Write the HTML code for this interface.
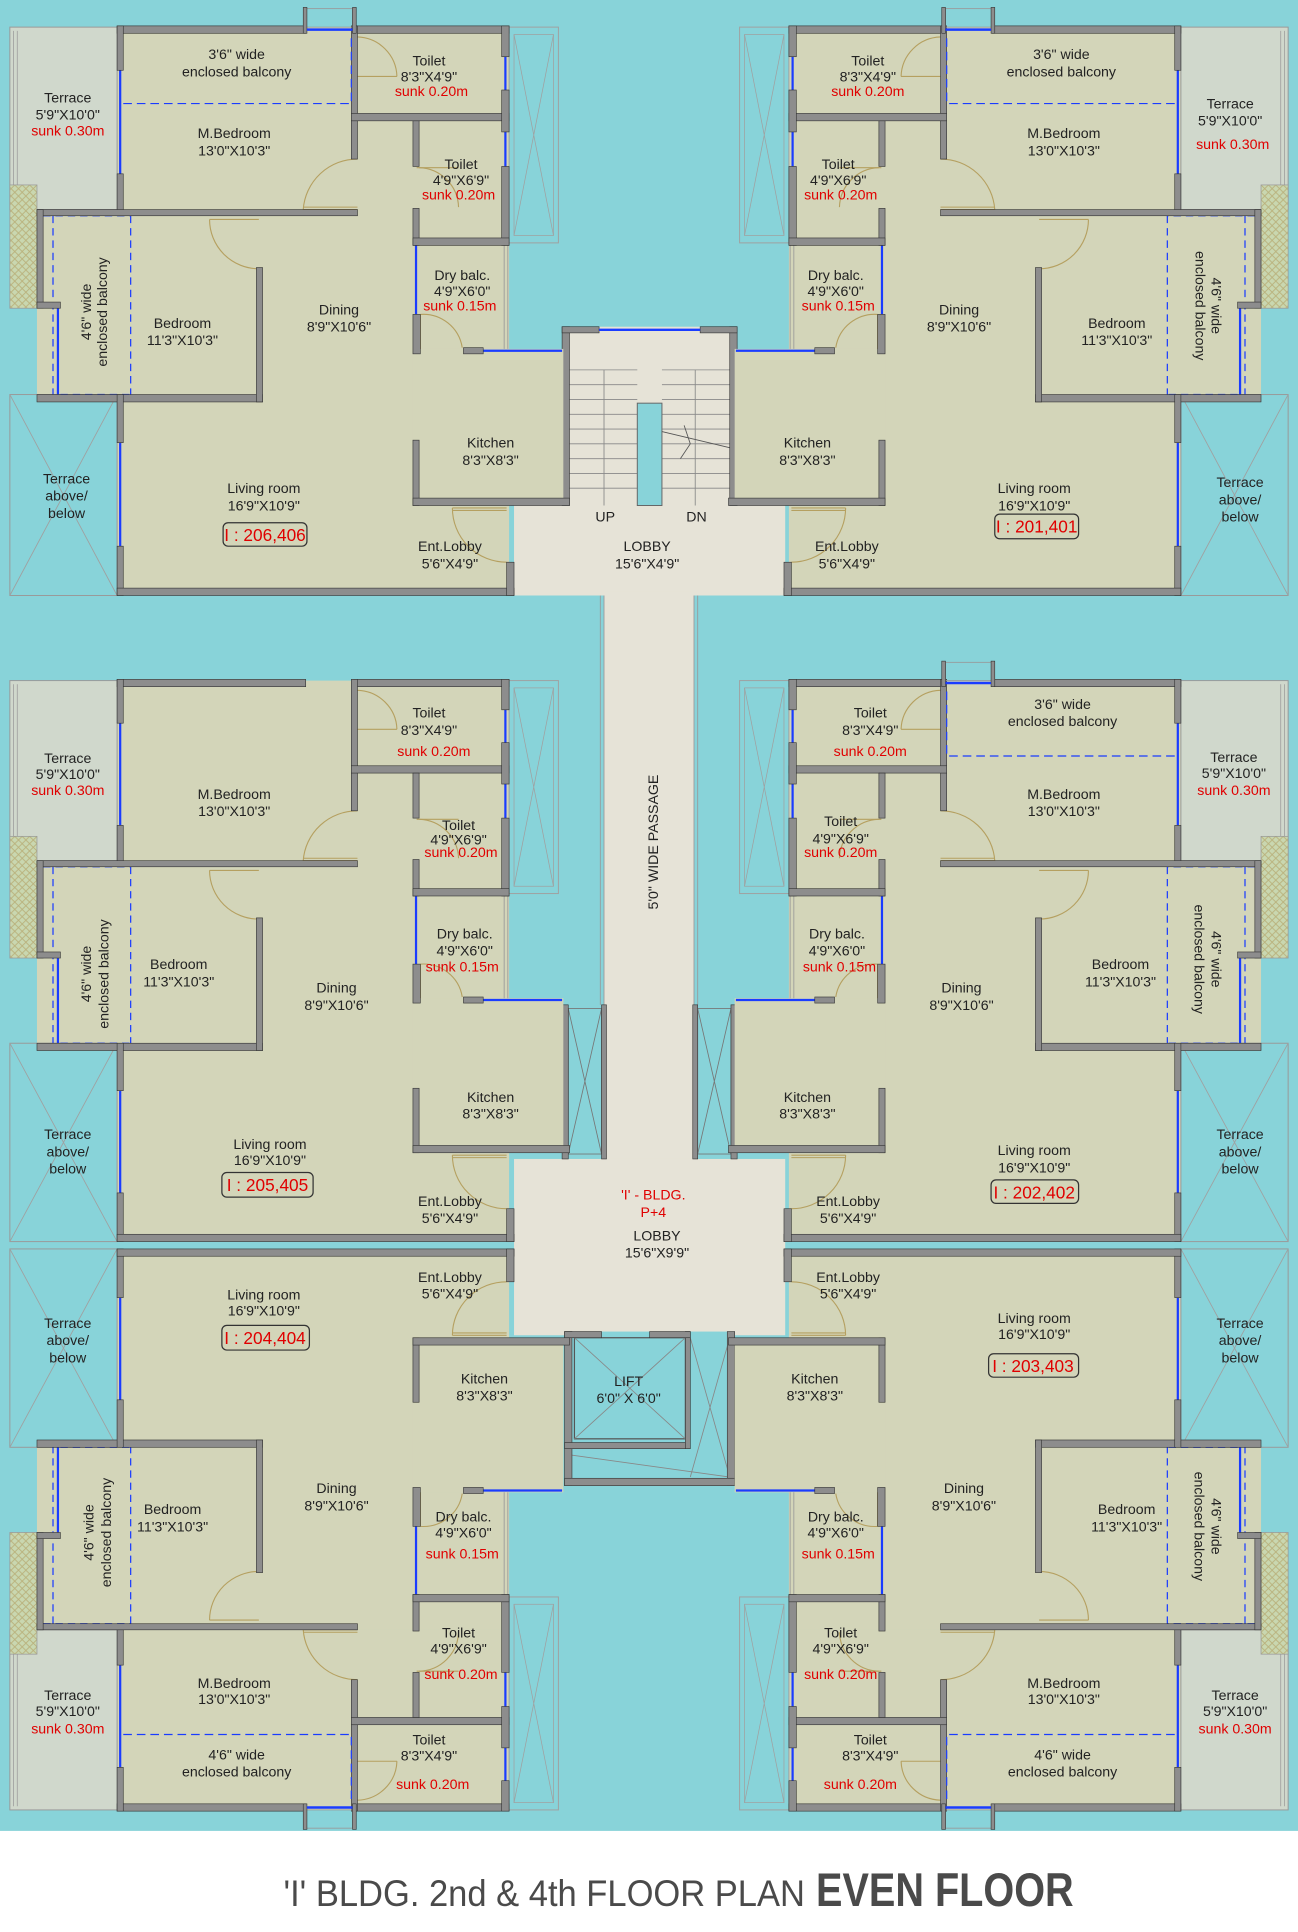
<!DOCTYPE html>
<html><head><meta charset="utf-8"><style>
html,body{margin:0;padding:0;background:#fff}
svg{display:block}
text{font-family:"Liberation Sans",sans-serif;font-size:11.5px;fill:#222;text-anchor:middle}
.r{fill:#e00000}
</style></head><body>
<svg width="1298" height="1932" viewBox="0 0 1053 1567" preserveAspectRatio="none" xmlns="http://www.w3.org/2000/svg">
<defs>
<pattern id="hx" width="6" height="6" patternUnits="userSpaceOnUse"><rect width="6" height="6" fill="#c9d7b0"/><path d="M0 0L6 6M6 0L0 6" stroke="#b9b07a" stroke-width="0.7"/></pattern>
<g id="ug">
 <!-- fills -->
 <rect x="95" y="22" width="318" height="150" fill="#d3d5b9"/>
 <rect x="30" y="170" width="183" height="156" fill="#d3d5b9"/>
 <rect x="95" y="170" width="318" height="313" fill="#d3d5b9"/>
 <rect x="335" y="283" width="122" height="127" fill="#d3d5b9"/>
 <rect x="8" y="22" width="87" height="148" fill="#d0d8cc" stroke="#999" stroke-width="0.8"/>
 <path d="M11 25V168M14 25V168" stroke="#999" stroke-width="0.6"/>
 <rect x="8" y="150" width="22" height="100" fill="url(#hx)" stroke="#999" stroke-width="0.6"/>
 <rect x="8" y="320" width="87" height="163" fill="none" stroke="#999" stroke-width="0.8"/>
 <path d="M8 320L95 483M95 320L8 483" stroke="#a0a0a0" stroke-width="0.7"/>
 <rect x="413" y="22" width="40" height="175" fill="none" stroke="#a0a0a0" stroke-width="0.8"/>
 <rect x="417" y="28" width="32" height="163" fill="none" stroke="#a0a0a0" stroke-width="0.6"/>
 <path d="M417 28L449 191M449 28L417 191" stroke="#a0a0a0" stroke-width="0.6"/>
 <path d="M409 199V283M412 199V283" stroke="#999" stroke-width="0.7"/>
 <!-- windows (blue) -->
 <path d="M97.5 57V141M47 250V320M97.5 359V443M410 46V73M410 107V135M337.5 199V255M392 284.5H456" stroke="#1a3cff" stroke-width="1.8"/>
 <!-- bedroom balcony dashes -->
 <path d="M43 175V320M106 175V320M35 175H106M49 320H106" stroke="#1a3cff" stroke-width="1" stroke-dasharray="6,4" fill="none"/>
 <!-- doors -->
 <g fill="none" stroke="#b5a060" stroke-width="0.9">
  <path d="M246 170A44 44 0 0 1 290 129"/><path d="M246 170H290M246 168H290"/>
  <path d="M170 178A40 40 0 0 0 210 218"/><path d="M170 178H210"/>
  <path d="M290 30A33 33 0 0 1 322 62"/><path d="M288 62H322"/>
  <path d="M340 136A33 33 0 0 1 372 168"/><path d="M338 136H372"/>
  <path d="M341 255A32 32 0 0 1 375 282"/><path d="M341 255V283"/>
  <path d="M367 412A44 44 0 0 0 411 456"/><path d="M367 412H411M367 414H411"/>
 </g>
 <!-- walls -->
 <g fill="#8d8d8d" stroke="#333" stroke-width="0.5">
  <rect x="95" y="21" width="153" height="6"/><rect x="287" y="21" width="126" height="6"/>
  <rect x="95" y="21" width="5" height="36"/><rect x="95" y="141" width="5" height="34"/>
  <rect x="30" y="170" width="260" height="5"/>
  <rect x="30" y="170" width="5" height="80"/><rect x="30" y="245" width="19" height="5"/>
  <rect x="30" y="320" width="183" height="6"/>
  <rect x="208" y="217" width="5" height="109"/>
  <rect x="95" y="320" width="5" height="39"/><rect x="95" y="443" width="5" height="40"/>
  <rect x="95" y="477" width="322" height="6"/>
  <rect x="411" y="456" width="6" height="27"/>
  <rect x="285" y="21" width="5" height="108"/>
  <rect x="285" y="92" width="128" height="6"/>
  <rect x="407" y="21" width="6" height="25"/><rect x="407" y="73" width="6" height="34"/><rect x="407" y="135" width="6" height="64"/>
  <rect x="335" y="98" width="5" height="37"/><rect x="335" y="169" width="5" height="30"/>
  <rect x="335" y="193" width="78" height="6"/>
  <rect x="335" y="255" width="6" height="32"/>
  <rect x="376" y="282" width="16" height="5"/>
  <rect x="335" y="357" width="5" height="53"/>
  <rect x="335" y="404" width="127" height="6"/>
 </g>
</g>
<g id="ub">
 <rect x="248" y="7" width="38" height="15" fill="none" stroke="#999" stroke-width="0.7"/>
 <g fill="#8d8d8d" stroke="#333" stroke-width="0.5"><rect x="246" y="6" width="3" height="21"/><rect x="286" y="6" width="3" height="21"/></g>
 <path d="M249 24H286" stroke="#1a3cff" stroke-width="2"/>
 <path d="M100 84H285V28" stroke="#1a3cff" stroke-width="1" stroke-dasharray="7,4" fill="none"/>
</g>
</defs>
<rect x="0" y="0" width="1053" height="1485" fill="#88d3d9"/>
<!-- central circulation -->
<rect x="417" y="408" width="220" height="75" fill="#e6e3d7"/>
<rect x="490" y="480" width="73" height="465" fill="#e6e3d7"/>
<path d="M487 483V815M490 483V815M563 483V815M566 483V815" stroke="#999" stroke-width="0.7"/>
<rect x="417" y="940" width="220" height="143" fill="#e6e3d7"/>
<!-- stair -->
<rect x="458" y="265" width="138" height="145" fill="#e6e3d7"/>
<g stroke="#888" stroke-width="0.7">
 <path d="M462 300H517M462 312H517M462 324H517M462 336H517M462 348H517M462 360H517M462 372H517M462 384H517M462 396H517"/>
 <path d="M537 300H592M537 312H592M537 324H592M537 336H592M537 348H592M537 360H592M537 372H592M537 384H592M537 396H592"/>
 <path d="M490 300V410M564 300V410"/>
</g>
<rect x="517" y="327" width="20" height="83" fill="#88d3d9" stroke="#666" stroke-width="0.8"/>
<path d="M537 350L600 365M555 345L560 360L552 372" stroke="#555" stroke-width="0.7" fill="none"/>
<g fill="#8d8d8d" stroke="#333" stroke-width="0.5">
 <rect x="456" y="265" width="6" height="145"/><rect x="592" y="265" width="6" height="145"/>
 <rect x="456" y="265" width="30" height="5"/><rect x="568" y="265" width="30" height="5"/>
</g>
<path d="M486 267.5H568" stroke="#1a3cff" stroke-width="2"/>
<!-- central shafts -->
<g fill="none" stroke="#777" stroke-width="0.7">
 <rect x="461" y="818" width="27" height="118"/><path d="M461 818L488 936M488 818L461 936"/>
 <rect x="566" y="818" width="27" height="118"/><path d="M566 818L593 936M593 818L566 936"/>
</g>
<g fill="#8d8d8d" stroke="#333" stroke-width="0.5">
 <rect x="456" y="815" width="5" height="125"/><rect x="488" y="815" width="4" height="125"/>
 <rect x="562" y="815" width="4" height="125"/><rect x="593" y="815" width="5" height="125"/>
</g>
<!-- lift -->
<rect x="458" y="1080" width="138" height="125" fill="#88d3d9"/>
<rect x="466" y="1085" width="90" height="82" fill="#88d3d9" stroke="#555" stroke-width="1"/>
<path d="M466 1085L556 1167M556 1085L466 1167M560 1085L592 1198M592 1085L560 1198M462 1180L592 1198" stroke="#888" stroke-width="0.7" fill="none"/>
<g fill="#8d8d8d" stroke="#333" stroke-width="0.5">
 <rect x="458" y="1080" width="6" height="125"/><rect x="590" y="1080" width="6" height="125"/>
 <rect x="458" y="1199" width="138" height="6"/><rect x="458" y="1170" width="100" height="5"/>
 <rect x="556" y="1080" width="4" height="95"/><rect x="458" y="1080" width="30" height="5"/><rect x="527" y="1080" width="33" height="5"/>
</g>
<!-- units -->
<use href="#ug"/><use href="#ub"/>
<use href="#ug" transform="matrix(-1,0,0,1,1053,0)"/><use href="#ub" transform="matrix(-1,0,0,1,1053,0)"/>
<use href="#ug" transform="matrix(1,0,0,0.987,0,530.3)"/>
<use href="#ug" transform="matrix(-1,0,0,0.987,1053,530.3)"/><use href="#ub" transform="matrix(-1,0,0,0.987,1053,530.3)"/>
<use href="#ug" transform="matrix(1,0,0,-0.987,0,1489.7)"/><use href="#ub" transform="matrix(1,0,0,-0.987,0,1489.7)"/>
<use href="#ug" transform="matrix(-1,0,0,-0.987,1053,1489.7)"/><use href="#ub" transform="matrix(-1,0,0,-0.987,1053,1489.7)"/>

<g>
<!-- TL -->
<text x="192" y="48">3'6"  wide</text><text x="192" y="62">enclosed balcony</text>
<text x="348" y="53">Toilet</text><text x="348" y="66">8'3"X4'9"</text><text class="r" x="350" y="78">sunk 0.20m</text>
<text x="55" y="83">Terrace</text><text x="55" y="97">5'9"X10'0"</text><text class="r" x="55" y="110">sunk 0.30m</text>
<text x="190" y="112">M.Bedroom</text><text x="190" y="126">13'0"X10'3"</text>
<text x="374" y="137">Toilet</text><text x="374" y="150">4'9"X6'9"</text><text class="r" x="372" y="162">sunk 0.20m</text>
<text x="375" y="227">Dry balc.</text><text x="375" y="240">4'9"X6'0"</text><text class="r" x="373" y="252">sunk 0.15m</text>
<text transform="translate(74,253) rotate(-90)">4'6" wide</text><text transform="translate(87,253) rotate(-90)">enclosed balcony</text>
<text x="148" y="266">Bedroom</text><text x="148" y="280">11'3"X10'3"</text>
<text x="275" y="255">Dining</text><text x="275" y="269">8'9"X10'6"</text>
<text x="398" y="363">Kitchen</text><text x="398" y="377">8'3"X8'3"</text>
<text x="214" y="400">Living room</text><text x="214" y="414">16'9"X10'9"</text>
<rect x="181" y="424" width="68" height="19" rx="4" fill="none" stroke="#333"/><text class="r" x="215" y="439" style="font-size:14px">I : 206,406</text>
<text x="365" y="447">Ent.Lobby</text><text x="365" y="461">5'6"X4'9"</text>
<text x="54" y="392">Terrace</text><text x="54" y="406">above/</text><text x="54" y="420">below</text>
<text x="491" y="423">UP</text><text x="565" y="423">DN</text>
<text x="525" y="447">LOBBY</text><text x="525" y="461">15'6"X4'9"</text>
<!-- TR -->
<text x="704" y="53">Toilet</text><text x="704" y="66">8'3"X4'9"</text><text class="r" x="704" y="78">sunk 0.20m</text>
<text x="861" y="48">3'6"  wide</text><text x="861" y="62">enclosed balcony</text>
<text x="998" y="88">Terrace</text><text x="998" y="102">5'9"X10'0"</text><text class="r" x="1000" y="121">sunk 0.30m</text>
<text x="863" y="112">M.Bedroom</text><text x="863" y="126">13'0"X10'3"</text>
<text x="680" y="137">Toilet</text><text x="680" y="150">4'9"X6'9"</text><text class="r" x="682" y="162">sunk 0.20m</text>
<text x="678" y="227">Dry balc.</text><text x="678" y="240">4'9"X6'0"</text><text class="r" x="680" y="252">sunk 0.15m</text>
<text x="778" y="255">Dining</text><text x="778" y="269">8'9"X10'6"</text>
<text x="906" y="266">Bedroom</text><text x="906" y="280">11'3"X10'3"</text>
<text transform="translate(983,248) rotate(90)">4'6" wide</text><text transform="translate(970,248) rotate(90)">enclosed balcony</text>
<text x="655" y="363">Kitchen</text><text x="655" y="377">8'3"X8'3"</text>
<text x="839" y="400">Living room</text><text x="839" y="414">16'9"X10'9"</text>
<rect x="807" y="417" width="68" height="20" rx="4" fill="none" stroke="#333"/><text class="r" x="841" y="432" style="font-size:14px">I : 201,401</text>
<text x="687" y="447">Ent.Lobby</text><text x="687" y="461">5'6"X4'9"</text>
<text x="1006" y="395">Terrace</text><text x="1006" y="409">above/</text><text x="1006" y="423">below</text>
<!-- ML -->
<text x="348" y="582">Toilet</text><text x="348" y="596">8'3"X4'9"</text><text class="r" x="352" y="613">sunk 0.20m</text>
<text x="55" y="619">Terrace</text><text x="55" y="632">5'9"X10'0"</text><text class="r" x="55" y="645">sunk 0.30m</text>
<text x="190" y="648">M.Bedroom</text><text x="190" y="662">13'0"X10'3"</text>
<text x="372" y="673">Toilet</text><text x="372" y="685">4'9"X6'9"</text><text class="r" x="374" y="695">sunk 0.20m</text>
<text x="377" y="761">Dry balc.</text><text x="377" y="775">4'9"X6'0"</text><text class="r" x="375" y="788">sunk 0.15m</text>
<text transform="translate(74,790) rotate(-90)">4'6" wide</text><text transform="translate(88,790) rotate(-90)">enclosed balcony</text>
<text x="145" y="786">Bedroom</text><text x="145" y="800">11'3"X10'3"</text>
<text x="273" y="805">Dining</text><text x="273" y="819">8'9"X10'6"</text>
<text x="398" y="894">Kitchen</text><text x="398" y="907">8'3"X8'3"</text>
<text x="219" y="932">Living room</text><text x="219" y="945">16'9"X10'9"</text>
<rect x="180" y="951" width="74" height="20" rx="4" fill="none" stroke="#333"/><text class="r" x="217" y="966" style="font-size:14px">I : 205,405</text>
<text x="365" y="978">Ent.Lobby</text><text x="365" y="992">5'6"X4'9"</text>
<text x="55" y="924">Terrace</text><text x="55" y="938">above/</text><text x="55" y="952">below</text>
<!-- MR -->
<text x="706" y="582">Toilet</text><text x="706" y="596">8'3"X4'9"</text><text class="r" x="706" y="613">sunk 0.20m</text>
<text x="862" y="575">3'6" wide</text><text x="862" y="589">enclosed balcony</text>
<text x="1001" y="618">Terrace</text><text x="1001" y="631">5'9"X10'0"</text><text class="r" x="1001" y="645">sunk 0.30m</text>
<text x="863" y="648">M.Bedroom</text><text x="863" y="662">13'0"X10'3"</text>
<text x="682" y="670">Toilet</text><text x="682" y="684">4'9"X6'9"</text><text class="r" x="682" y="695">sunk 0.20m</text>
<text x="679" y="761">Dry balc.</text><text x="679" y="775">4'9"X6'0"</text><text class="r" x="681" y="788">sunk 0.15m</text>
<text x="780" y="805">Dining</text><text x="780" y="819">8'9"X10'6"</text>
<text x="909" y="786">Bedroom</text><text x="909" y="800">11'3"X10'3"</text>
<text transform="translate(983,778) rotate(90)">4'6" wide</text><text transform="translate(969,778) rotate(90)">enclosed balcony</text>
<text x="655" y="894">Kitchen</text><text x="655" y="907">8'3"X8'3"</text>
<text x="839" y="937">Living room</text><text x="839" y="951">16'9"X10'9"</text>
<rect x="804" y="957" width="71" height="19" rx="4" fill="none" stroke="#333"/><text class="r" x="839" y="972" style="font-size:14px">I : 202,402</text>
<text x="688" y="978">Ent.Lobby</text><text x="688" y="992">5'6"X4'9"</text>
<text x="1006" y="924">Terrace</text><text x="1006" y="938">above/</text><text x="1006" y="952">below</text>
<!-- center -->
<text transform="translate(534,683) rotate(-90)">5'0" WIDE PASSAGE</text>
<text class="r" x="530" y="973">'I' - BLDG.</text><text class="r" x="530" y="987">P+4</text>
<text x="533" y="1006">LOBBY</text><text x="533" y="1020">15'6"X9'9"</text>
<text x="510" y="1124">LIFT</text><text x="510" y="1138">6'0" X 6'0"</text>
<!-- BL -->
<text x="214" y="1054">Living room</text><text x="214" y="1067">16'9"X10'9"</text>
<rect x="180" y="1075" width="71" height="20" rx="4" fill="none" stroke="#333"/><text class="r" x="215" y="1090" style="font-size:14px">I : 204,404</text>
<text x="365" y="1040">Ent.Lobby</text><text x="365" y="1053">5'6"X4'9"</text>
<text x="393" y="1122">Kitchen</text><text x="393" y="1136">8'3"X8'3"</text>
<text x="55" y="1077">Terrace</text><text x="55" y="1091">above/</text><text x="55" y="1105">below</text>
<text x="273" y="1211">Dining</text><text x="273" y="1225">8'9"X10'6"</text>
<text x="140" y="1228">Bedroom</text><text x="140" y="1242">11'3"X10'3"</text>
<text transform="translate(76,1243) rotate(-90)">4'6" wide</text><text transform="translate(90,1243) rotate(-90)">enclosed balcony</text>
<text x="376" y="1234">Dry balc.</text><text x="376" y="1247">4'9"X6'0"</text><text class="r" x="375" y="1264">sunk 0.15m</text>
<text x="372" y="1328">Toilet</text><text x="372" y="1341">4'9"X6'9"</text><text class="r" x="374" y="1362">sunk 0.20m</text>
<text x="190" y="1369">M.Bedroom</text><text x="190" y="1382">13'0"X10'3"</text>
<text x="55" y="1379">Terrace</text><text x="55" y="1392">5'9"X10'0"</text><text class="r" x="55" y="1406">sunk 0.30m</text>
<text x="348" y="1415">Toilet</text><text x="348" y="1428">8'3"X4'9"</text><text class="r" x="351" y="1451">sunk 0.20m</text>
<text x="192" y="1427">4'6" wide</text><text x="192" y="1441">enclosed balcony</text>
<!-- BR -->
<text x="688" y="1040">Ent.Lobby</text><text x="688" y="1053">5'6"X4'9"</text>
<text x="839" y="1073">Living room</text><text x="839" y="1086">16'9"X10'9"</text>
<rect x="802" y="1098" width="73" height="19" rx="4" fill="none" stroke="#333"/><text class="r" x="838" y="1113" style="font-size:14px">I : 203,403</text>
<text x="661" y="1122">Kitchen</text><text x="661" y="1136">8'3"X8'3"</text>
<text x="1006" y="1077">Terrace</text><text x="1006" y="1091">above/</text><text x="1006" y="1105">below</text>
<text x="782" y="1211">Dining</text><text x="782" y="1225">8'9"X10'6"</text>
<text x="914" y="1228">Bedroom</text><text x="914" y="1242">11'3"X10'3"</text>
<text transform="translate(983,1238) rotate(90)">4'6" wide</text><text transform="translate(969,1238) rotate(90)">enclosed balcony</text>
<text x="678" y="1234">Dry balc.</text><text x="678" y="1247">4'9"X6'0"</text><text class="r" x="680" y="1264">sunk 0.15m</text>
<text x="682" y="1328">Toilet</text><text x="682" y="1341">4'9"X6'9"</text><text class="r" x="682" y="1362">sunk 0.20m</text>
<text x="863" y="1369">M.Bedroom</text><text x="863" y="1382">13'0"X10'3"</text>
<text x="1002" y="1379">Terrace</text><text x="1002" y="1392">5'9"X10'0"</text><text class="r" x="1002" y="1406">sunk 0.30m</text>
<text x="706" y="1415">Toilet</text><text x="706" y="1428">8'3"X4'9"</text><text class="r" x="698" y="1451">sunk 0.20m</text>
<text x="862" y="1427">4'6" wide</text><text x="862" y="1441">enclosed balcony</text>
</g>
<!-- title -->
<text x="230" y="1546" textLength="423" lengthAdjust="spacingAndGlyphs" style="text-anchor:start;font-family:'Liberation Sans Narrow','Liberation Sans',sans-serif;font-size:30px;fill:#4a4a4a">'I' BLDG. 2nd &amp; 4th FLOOR PLAN</text>
<text x="662" y="1546" textLength="209" lengthAdjust="spacingAndGlyphs" style="text-anchor:start;font-family:'Liberation Sans Narrow','Liberation Sans',sans-serif;font-size:38px;font-weight:bold;fill:#4a4a4a">EVEN FLOOR</text>
</svg>
</body></html>
